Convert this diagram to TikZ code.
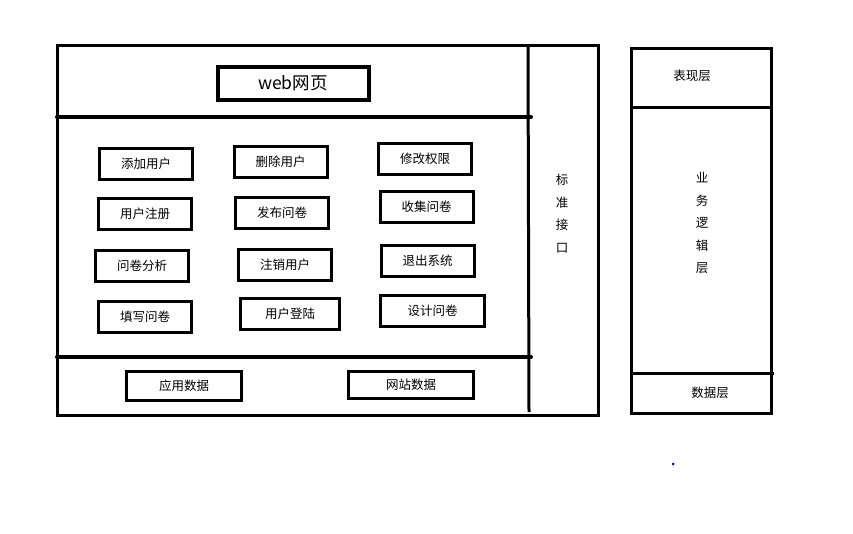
\documentclass[tikz,border=0pt]{standalone}
\usepackage{fontspec}
\newfontfamily\cjk{Noto Sans CJK SC}
\usepackage{tikz}
\usetikzlibrary{positioning}
\tikzset{
  basic/.style  = {rectangle, font=\cjk\fontsize{12.5}{14}\selectfont, inner sep=0pt},
  button/.style = {basic, draw, line width=3pt, minimum width=93pt, minimum height=31pt},
  title/.style  = {basic, draw, line width=4pt, minimum width=151pt, minimum height=33pt,
                   font=\cjk\fontsize{17.5}{19}\selectfont},
  vtext/.style  = {basic, align=center, font=\cjk\fontsize{12.5}{22.5}\selectfont},
  frame/.style  = {line width=3pt},
  divider/.style = {line width=4pt, line cap=round}
}

\begin{document}
\begin{tikzpicture}[x=1pt, y=-1pt]
\useasboundingbox (0,0) rectangle (853,533);

% the left frame with its standard interface column
\draw[frame] (57,45) rectangle (598,415);
\draw[frame] (528,47) -- (529,412);
\coordinate (d1w) at (57,117);
\coordinate (d1e) at (531,117);
\coordinate (d2w) at (57,357);
\coordinate (d2e) at (531,357);
\draw[divider] (d1w) -- (d1e);
\draw[divider] (d2w) -- (d2e);

% top part, the web page
\node[title] (web) at (293,83.5) {web网页};

% the middle part, the functions
\begin{scope}[every node/.style={button}]
\node (add)  at (146,163.5) {添加用户};
\node (del)  at (280.5,162) {删除用户};
\node (perm) at (425,159)   {修改权限};

\node (reg)  at (145,214)   {用户注册};
\node (pub)  at (282,213)   {发布问卷};
\node (coll) at (426.5,207) {收集问卷};

\node (ana)  at (142,265.5) {问卷分析};
\node (canc) at (285,264.5) {注销用户};
\node (quit) at (427.5,261) {退出系统};

\node (fill)  at (145,316.5) {填写问卷};
\node[minimum width=99pt]  (login)  at (290,314)   {用户登陆};
\node[minimum width=104pt] (design) at (432.5,310.5) {设计问卷};
\end{scope}

% bottom part, the data
\node[button, minimum width=115pt, minimum height=29pt] (appdata) at (184,386) {应用数据};
\node[button, minimum width=125pt, minimum height=27pt] (sitedata) at (411,384.5) {网站数据};

\node[vtext] (iface) at (562,213.5) {标\\准\\接\\口};

% the right frame, the layers
\draw[frame] (631,48) rectangle (771,413);
\coordinate (l1w) at (631,107);
\coordinate (l1e) at (772,107);
\coordinate (l2w) at (631,373);
\coordinate (l2e) at (774,373);
\draw[frame] (l1w) -- (l1e);
\draw[frame] (l2w) -- (l2e);

\node[basic] (view)  at (692,76)  {表现层};
\node[vtext] (logic) at (702,223) {业\\务\\逻\\辑\\层};
\node[basic] (data)  at (710,393) {数据层};

\fill[blue!70!black] (673,464) circle (1.5pt);
\end{tikzpicture}
\end{document}
